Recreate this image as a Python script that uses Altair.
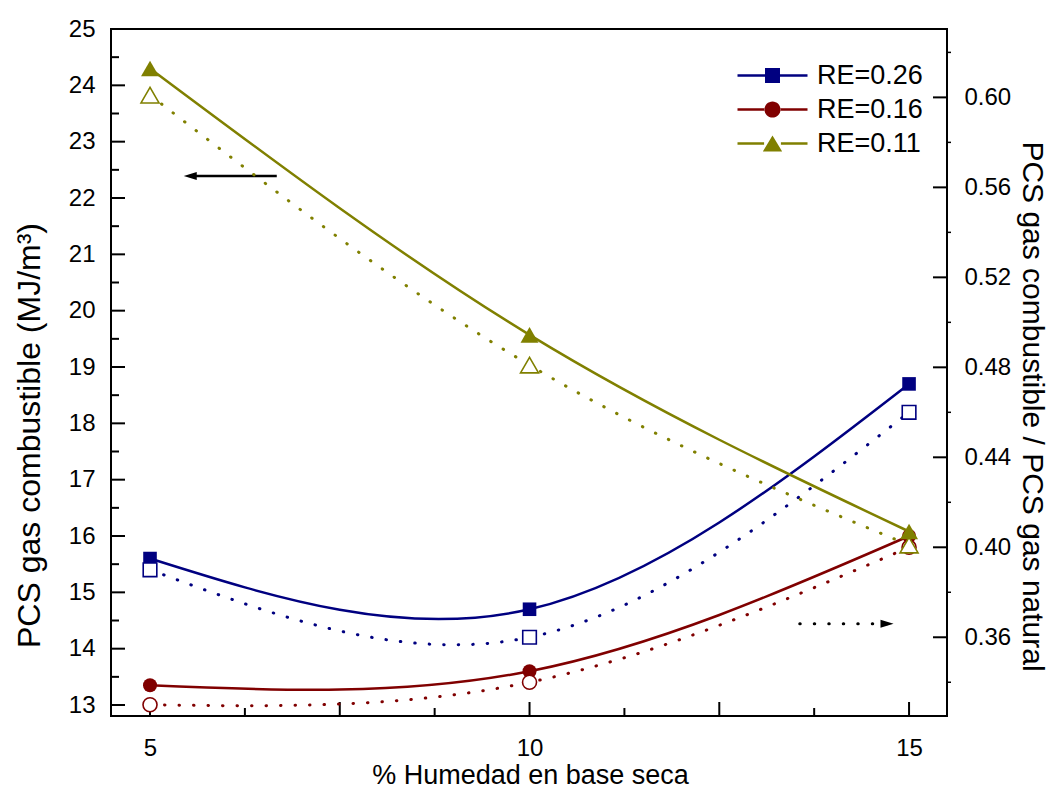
import altair as alt
import pandas as pd

# ---------------- data ----------------
humedad = [5, 10, 15]
series_names = ["RE=0.26", "RE=0.16", "RE=0.11"]

# left axis: PCS gas combustible (MJ/m3)  -> filled markers, solid lines
pcs_re026 = [15.6, 14.7, 18.7]
pcs_re016 = [13.35, 13.6, 16.0]
pcs_re011 = [24.3, 19.57, 16.08]

# right axis: PCS gas combustible / PCS gas natural -> open markers, dotted lines
ratio_re026 = [0.390, 0.360, 0.460]
ratio_re016 = [0.330, 0.340, 0.400]
ratio_re011 = [0.601, 0.481, 0.401]

x_label_values = [5, 10, 15]
x_major_ticks = [5, 7.5, 10, 12.5, 15]
x_minor_ticks = [6.25, 8.75, 11.25, 13.75]
left_label_values = [13, 14, 15, 16, 17, 18, 19, 20, 21, 22, 23, 24, 25]
left_minor_ticks = [13.5, 14.5, 15.5, 16.5, 17.5, 18.5, 19.5, 20.5, 21.5, 22.5, 23.5, 24.5]
right_label_values = [0.36, 0.40, 0.44, 0.48, 0.52, 0.56, 0.60]
right_minor_ticks = [0.34, 0.38, 0.42, 0.46, 0.50, 0.54, 0.58, 0.62]

# annotation arrows (data units)
arrow_left_x = [6.67, 5.53]
arrow_left_y = [22.39, 22.39]
arrow_right_x = [13.56, 14.71]
arrow_right_y = [0.366, 0.366]

# ---------------- styles ----------------
FONT = "Liberation Sans"
W, H = 836, 687
colors = {"RE=0.26": "#000080", "RE=0.16": "#800000", "RE=0.11": "#808000"}
markers = {"RE=0.26": "square", "RE=0.16": "circle", "RE=0.11": "triangle-up"}
msizes = {"RE=0.26": 185, "RE=0.16": 196, "RE=0.11": 324}
legend_paths = [
    "M-5,-0.18H-1.07V-1.07H1.07V-0.18H5V0.18H1.07V1.07H-1.07V0.18H-5Z",
    "M-5,-0.18H-1.1V0.18H-5Z M1.1,-0.18H5V0.18H1.1Z M-1.15,0A1.15,1.15 0 1,0 1.15,0A1.15,1.15 0 1,0 -1.15,0Z",
    "M-5,-0.18H-1.2V0.18H-5Z M1.2,-0.18H5V0.18H1.2Z M0,-1.15L1.38,1.15H-1.38Z",
]


def build(values_list):
    rows = []
    for name, vals in zip(series_names, values_list):
        for h, v in zip(humedad, vals):
            rows.append({"h": h, "v": v, "series": name, "color": colors[name],
                         "marker": markers[name], "msize": msizes[name]})
    return pd.DataFrame(rows)


left_df = build([pcs_re026, pcs_re016, pcs_re011])
right_df = build([ratio_re026, ratio_re016, ratio_re011])

xs = alt.Scale(domain=[4.486, 15.5], nice=False, zero=False)
yl = alt.Scale(domain=[12.805, 25], nice=False, zero=False)
yr = alt.Scale(domain=[0.325, 0.6304], nice=False, zero=False)

x_axis = alt.Axis(values=x_label_values, ticks=False, tickSize=0, domain=False, grid=False,
                  labelPadding=20, labelFontSize=24, title="% Humedad en base seca",
                  titleFontSize=27, titleX=419, titleY=59, titleBaseline="middle")
yl_axis = alt.Axis(values=left_label_values, ticks=False, tickSize=0, domain=False, grid=False,
                   labelPadding=16, labelFontSize=24, title="PCS gas combustible (MJ/m³)",
                   titleFontSize=32, titleAngle=270, titleX=-82, titleY=406,
                   titleBaseline="middle", titleAlign="center")
yr_axis = alt.Axis(values=right_label_values, format=".2f", orient="right", ticks=False,
                   tickSize=0, domain=False, grid=False, labelPadding=17, labelFontSize=24,
                   title="PCS gas combustible / PCS gas natural", titleFontSize=30,
                   titleAngle=90, titleX=84, titleY=377, titleBaseline="middle",
                   titleAlign="center")

X = lambda f: alt.X(f, scale=xs, axis=x_axis)
YL = lambda f: alt.Y(f, scale=yl, axis=yl_axis)
YR = lambda f: alt.Y(f, scale=yr, axis=yr_axis)

# ---------- left group ----------
left_lines = alt.Chart(left_df).mark_line(interpolate="natural", strokeWidth=2.5).encode(
    x=X("h:Q"), y=YL("v:Q"),
    color=alt.Color("color:N", scale=None),
    detail="series:N",
)
left_points = alt.Chart(left_df).mark_point(filled=True, opacity=1).encode(
    x=X("h:Q"), y=YL("v:Q"),
    color=alt.Color("color:N", scale=None),
    shape=alt.Shape("marker:N", scale=None),
    size=alt.Size("msize:Q", scale=None),
)
lmaj = alt.Chart(pd.DataFrame({"v": left_label_values})).mark_rule(color="black", strokeWidth=2).encode(
    y=YL("v:Q"), x=alt.value(0), x2=alt.value(14))
lmin = alt.Chart(pd.DataFrame({"v": left_minor_ticks})).mark_rule(color="black", strokeWidth=2).encode(
    y=YL("v:Q"), x=alt.value(0), x2=alt.value(8))
xmaj = alt.Chart(pd.DataFrame({"h": x_major_ticks})).mark_rule(color="black", strokeWidth=2).encode(
    x=X("h:Q"), y=alt.value(H - 14), y2=alt.value(H))
xmin = alt.Chart(pd.DataFrame({"h": x_minor_ticks})).mark_rule(color="black", strokeWidth=2).encode(
    x=X("h:Q"), y=alt.value(H - 8), y2=alt.value(H))
arrow_l_df = pd.DataFrame({"h": arrow_left_x, "v": arrow_left_y})
arrow_l = alt.Chart(arrow_l_df).mark_line(color="black", strokeWidth=2.5).encode(
    x=X("h:Q"), y=YL("v:Q"))
arrow_l_head = alt.Chart(arrow_l_df.tail(1)).mark_point(
    shape="M-1,0L1,-0.6L1,0.6Z", filled=True, color="black", opacity=1, size=170).encode(
    x=X("h:Q"), y=YL("v:Q"))

left_group = alt.layer(left_lines, lmaj, lmin, xmaj, xmin, arrow_l, arrow_l_head, left_points)

# ---------- right group ----------
right_lines = alt.Chart(right_df).mark_line(
    interpolate="natural", strokeWidth=3, strokeDash=[0.5, 14], strokeCap="round").encode(
    x=X("h:Q"), y=YR("v:Q"),
    color=alt.Color("color:N", scale=None),
    detail="series:N",
)
right_points = alt.Chart(right_df).mark_point(filled=False, fill="white", opacity=1, strokeWidth=1.6).encode(
    x=X("h:Q"), y=YR("v:Q"),
    color=alt.Color("color:N", scale=None),
    shape=alt.Shape("marker:N", scale=None),
    size=alt.Size("msize:Q", scale=None),
)
rmaj = alt.Chart(pd.DataFrame({"v": right_label_values})).mark_rule(color="black", strokeWidth=2).encode(
    y=YR("v:Q"), x=alt.value(W - 14), x2=alt.value(W))
rmin = alt.Chart(pd.DataFrame({"v": right_minor_ticks})).mark_rule(color="black", strokeWidth=1.5).encode(
    y=YR("v:Q"), x=alt.value(W), x2=alt.value(W + 4))
arrow_r_df = pd.DataFrame({"h": arrow_right_x, "v": arrow_right_y})
arrow_r = alt.Chart(arrow_r_df).mark_line(
    color="black", strokeWidth=3, strokeDash=[0.5, 14], strokeCap="round").encode(
    x=X("h:Q"), y=YR("v:Q"))
arrow_r_head = alt.Chart(arrow_r_df.tail(1)).mark_point(
    shape="M1,0L-1,-0.6L-1,0.6Z", filled=True, color="black", opacity=1, size=170).encode(
    x=X("h:Q"), y=YR("v:Q"))

right_group = alt.layer(right_lines, rmaj, rmin, arrow_r, arrow_r_head, right_points)

# ---------- legend (scale-driven, no visible marks) ----------
leg = alt.Legend(title=None, orient="none", legendX=648, legendY=33, labelFontSize=27,
                 labelFont=FONT, labelColor="black", labelOffset=31, symbolSize=196,
                 rowPadding=6, padding=0, symbolOpacity=1, labelLimit=0)
legend_layer = alt.Chart(pd.DataFrame({"series": series_names, "on": [0, 0, 0]})).transform_filter(
    "datum.on > 0").mark_point(filled=True, opacity=1).encode(
    color=alt.Color("series:N", scale=alt.Scale(domain=series_names,
                                                range=[colors[s] for s in series_names]), legend=leg),
    shape=alt.Shape("series:N", scale=alt.Scale(domain=series_names, range=legend_paths), legend=leg),
)

chart = alt.layer(left_group, right_group, legend_layer).resolve_scale(
    y="independent"
).properties(
    width=W, height=H,
    autosize=alt.AutoSizeParams(type="none"),
    padding={"left": 103, "top": 21, "right": 105, "bottom": 78},
).configure_view(stroke="black", strokeWidth=2).configure_axis(
    labelFont=FONT, titleFont=FONT, labelColor="black", titleColor="black",
    titleFontWeight="normal", grid=False,
)

chart.save("out.html", embed_options={"renderer": "svg", "actions": False})
